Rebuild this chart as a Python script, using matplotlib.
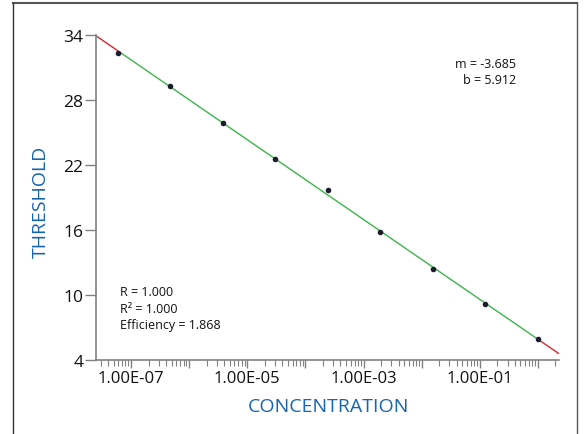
import numpy as np
import matplotlib.pyplot as plt
from matplotlib.lines import Line2D
from matplotlib.ticker import LogLocator, FixedLocator, NullFormatter

# 8-fold dilution series
concentration = [5.96e-8, 4.77e-7, 3.81e-6, 3.05e-5, 2.44e-4, 1.95e-3, 1.56e-2, 1.25e-1, 1.0]
threshold = [32.31, 29.29, 25.90, 22.58, 19.66, 15.81, 12.42, 9.19, 5.90]

slope = -3.685
intercept = 5.912
r_value = 1.000
r2_value = 1.000
efficiency = 1.868

x_range = [2.5e-8, 2.3]
y_ticks = [4, 10, 16, 22, 28, 34]
x_label_ticks = [1e-7, 1e-5, 1e-3, 1e-1]
x_tick_labels = ['1.00E-07', '1.00E-05', '1.00E-03', '1.00E-01']

plt.rcParams['font.family'] = ['Open Sans', 'DejaVu Sans']

text_col = '#111111'
axis_col = '#808080'
blue = '#1565b0'


def fit_line(x0, x1):
    xs = np.array([x0, x1])
    return xs, slope * np.log10(xs) + intercept


fig = plt.figure(figsize=(5.87, 4.35), dpi=100)
ax = fig.add_axes([96 / 587, 1 - 361 / 435, (559 - 96) / 587, (361 - 36) / 435])

# fit line: red outside the standards, green across them
xs, ys = fit_line(x_range[0], concentration[0])
ax.plot(xs, ys, color='#d7262e', lw=1.0, solid_capstyle='butt', clip_on=False)
xs, ys = fit_line(concentration[0], concentration[-1])
ax.plot(xs, ys, color='#3cb54a', lw=1.0, solid_capstyle='butt')
xs, ys = fit_line(concentration[-1], x_range[1])
ax.plot(xs, ys, color='#d7262e', lw=1.0, solid_capstyle='butt', clip_on=False)

ax.plot(concentration, threshold, 'o', color='#1c1c2e', ms=3.0, zorder=3)

ax.set_xscale('log')
ax.set_xlim(x_range)
ax.set_ylim(4, 34)

ax.xaxis.set_major_locator(LogLocator(base=10, numticks=20))
ax.xaxis.set_minor_locator(LogLocator(base=10, subs=np.arange(2, 10), numticks=20))
ax.xaxis.set_major_formatter(NullFormatter())
ax.xaxis.set_minor_formatter(NullFormatter())
ax.tick_params(axis='x', which='major', direction='out', length=6, width=1, color=axis_col)
ax.tick_params(axis='x', which='minor', direction='out', length=4, width=0.8, color=axis_col)

# labels only every other decade
lab_ax = ax.secondary_xaxis('bottom')
lab_ax.set_xticks(x_label_ticks)
lab_ax.set_xticklabels(x_tick_labels)
lab_ax.tick_params(length=0, pad=7, labelsize=12, labelcolor=text_col)
lab_ax.xaxis.set_minor_locator(FixedLocator([]))
lab_ax.spines['bottom'].set_visible(False)

ax.set_yticks(y_ticks)
ax.tick_params(axis='y', direction='out', length=8, width=1, color=axis_col,
               labelsize=12.5, labelcolor=text_col, pad=1)

for s in ['top', 'right']:
    ax.spines[s].set_visible(False)
for s in ['left', 'bottom']:
    ax.spines[s].set_color(axis_col)
    ax.spines[s].set_linewidth(1.2)

fig.text(328 / 587, 1 - 407 / 435, 'CONCENTRATION', color=blue, fontsize=14,
         ha='center', va='center')
fig.text(41 / 587, 1 - 202 / 435, 'THRESHOLD', color=blue, fontsize=14,
         ha='center', va='center', rotation=90)

fig.text(516 / 587, 1 - 65 / 435, 'm = %.3f' % slope, fontsize=9, color=text_col,
         ha='right', va='center')
fig.text(516 / 587, 1 - 81 / 435, 'b = %.3f' % intercept, fontsize=9, color=text_col,
         ha='right', va='center')

fig.text(120 / 587, 1 - 293 / 435, 'R = %.3f' % r_value, fontsize=9, color=text_col,
         va='center')
fig.text(120 / 587, 1 - 309.5 / 435, 'R\u00b2 = %.3f' % r2_value, fontsize=9, color=text_col,
         va='center')
fig.text(120 / 587, 1 - 326 / 435, 'Efficiency = %.3f' % efficiency, fontsize=9,
         color=text_col, va='center')

# outer frame
frame_col = '#555555'
top = 1 - 4 / 435
fig.add_artist(Line2D([13 / 587, 577 / 587], [top, top], color=frame_col, lw=1.5))
fig.add_artist(Line2D([13 / 587, 13 / 587], [0, top], color='#333333', lw=1.0))
fig.add_artist(Line2D([577 / 587, 577 / 587], [0, top], color=frame_col, lw=1.0))

fig.savefig('out.png', dpi=100)
